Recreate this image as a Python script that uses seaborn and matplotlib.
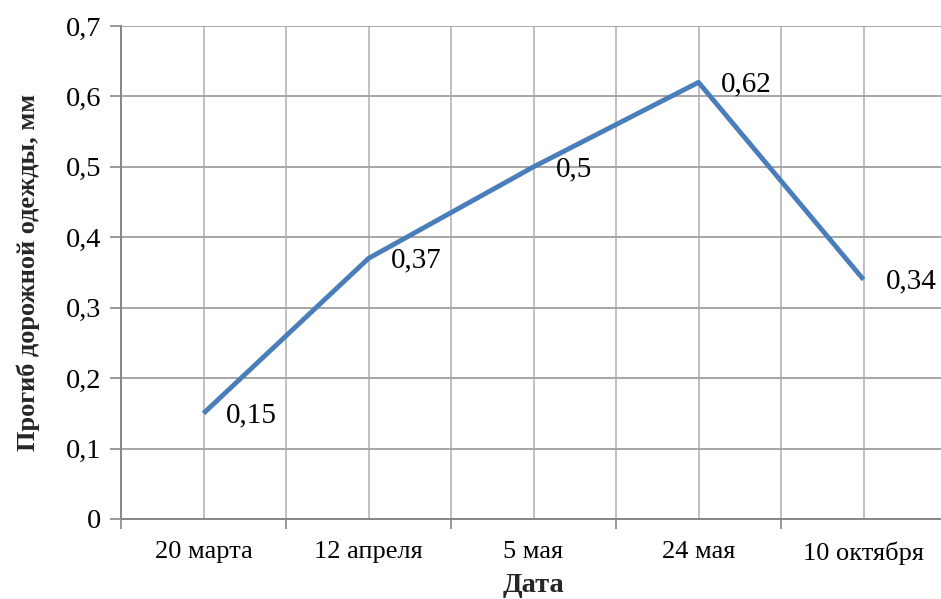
import matplotlib
matplotlib.use("Agg")
import matplotlib.pyplot as plt
import seaborn as sns
import pandas as pd
from matplotlib.ticker import FixedLocator, FuncFormatter

# Прогиб дорожной одежды по датам измерений
dates = ["20 марта", "12 апреля", "5 мая", "24 мая", "10 октября"]
deflection = [0.15, 0.37, 0.5, 0.62, 0.34]
y_ticks = [0.0, 0.1, 0.2, 0.3, 0.4, 0.5, 0.6, 0.7]

df = pd.DataFrame({"pos": range(len(dates)), "value": deflection})

sns.set_theme(style="white")
plt.rcParams["font.family"] = ["Liberation Serif", "DejaVu Serif"]

W, H = 941, 599
fig = plt.figure(figsize=(W / 100, H / 100), dpi=100)
left, right, bottom, top = 121, 946, 519, 26
ax = fig.add_axes([left / W, (H - bottom) / H, (right - left) / W, (bottom - top) / H])

sns.lineplot(data=df, x="pos", y="value", ax=ax, color="#4A7EBB",
             linewidth=3.5, sort=False, solid_capstyle="butt")

ax.set_xlim(-0.5, len(dates) - 0.5)
ax.set_ylim(0, 0.7)

# category boundaries carry the tick marks, centers carry the labels
ax.xaxis.set_major_locator(FixedLocator([i - 0.5 for i in range(len(dates) + 1)]))
ax.xaxis.set_major_formatter(FuncFormatter(lambda v, p: ""))
ax.xaxis.set_minor_locator(FixedLocator(list(range(len(dates)))))
ax.set_xticklabels(dates, minor=True)
ax.tick_params(axis="x", which="major", length=7, width=1.2, color="#868686",
               direction="out", bottom=True)
ax.tick_params(axis="x", which="minor", length=0, pad=16, labelsize=19,
               labelcolor="black", bottom=True)

ax.set_yticks(y_ticks)
ax.yaxis.set_major_formatter(FuncFormatter(
    lambda v, p: "0" if abs(v) < 1e-9 else f"{v:.1f}".replace(".", ",")))
ax.tick_params(axis="y", length=8, width=1.2, color="#868686", direction="out",
               left=True, labelsize=20.5, pad=6, labelcolor="black")

ax.grid(True, axis="y", which="major", color="#A6A6A6", linewidth=1.4)
ax.grid(True, axis="x", which="both", color="#C0C0C0", linewidth=1.4)
ax.set_axisbelow(True)

for side in ("top", "right"):
    ax.spines[side].set_visible(False)
for side in ("left", "bottom"):
    ax.spines[side].set_color("#868686")
    ax.spines[side].set_linewidth(1.4)

ax.set_xlabel("Дата", fontsize=20.5, fontweight="bold", labelpad=6)
ax.set_ylabel("Прогиб дорожной одежды, мм", fontsize=19, fontweight="bold", labelpad=19)

for x, v in zip(df["pos"], deflection):
    ax.annotate(f"{v:g}".replace(".", ","), xy=(x, v), xytext=(16, -1.5),
                textcoords="offset points", ha="left", va="center",
                fontsize=21, color="black")

fig.savefig("out.png", dpi=100)
